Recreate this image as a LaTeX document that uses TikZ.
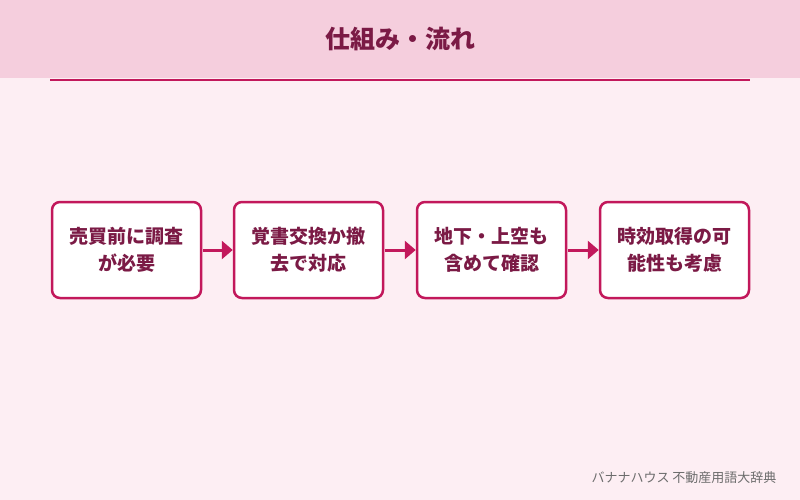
\documentclass[tikz,border=0pt]{standalone}
\usepackage{fontspec}
\newfontfamily\cjk{Noto Sans CJK JP}
\usetikzlibrary{arrows.meta}
\definecolor{bg}{HTML}{FDEEF3}
\definecolor{band}{HTML}{F5CEDD}
\definecolor{pk}{HTML}{C2185B}
\definecolor{tx}{HTML}{7B1A45}
\begin{document}
\begin{tikzpicture}[x=1pt,y=-1pt,
  box/.style={draw=pk,line width=2.5pt,rounded corners=8pt,fill=white,minimum width=149pt,minimum height=96pt,align=center,text=tx,font=\cjk\bfseries\fontsize{19}{27}\selectfont},
  arr/.style={draw=pk,line width=3pt,-{Triangle[length=11pt,width=18pt]},shorten <=1pt,shorten >=0pt}]
\fill[bg] (0,0) rectangle (800,500);
\fill[band] (0,0) rectangle (800,78);
\draw[pk,line width=1.5pt] (50,80) -- (750,80);
\node[text=tx,font=\cjk\bfseries\fontsize{25}{28}\selectfont] (t) at (400,39) {仕組み・流れ};
\node[box] (a) at (126.5,250) {売買前に調査\\が必要};
\node[box] (b) at (308.5,250) {覚書交換か撤\\去で対応};
\node[box] (c) at (491.5,250) {地下・上空も\\含めて確認};
\node[box] (d) at (674.5,250) {時効取得の可\\能性も考慮};
\draw[arr] (a) -- (b);
\draw[arr] (b) -- (c);
\draw[arr] (c) -- (d);
\node[anchor=east,text=gray!85!black,font=\cjk\fontsize{13}{15}\selectfont] (f) at (780,478) {バナナハウス 不動産用語大辞典};
\end{tikzpicture}
\end{document}
